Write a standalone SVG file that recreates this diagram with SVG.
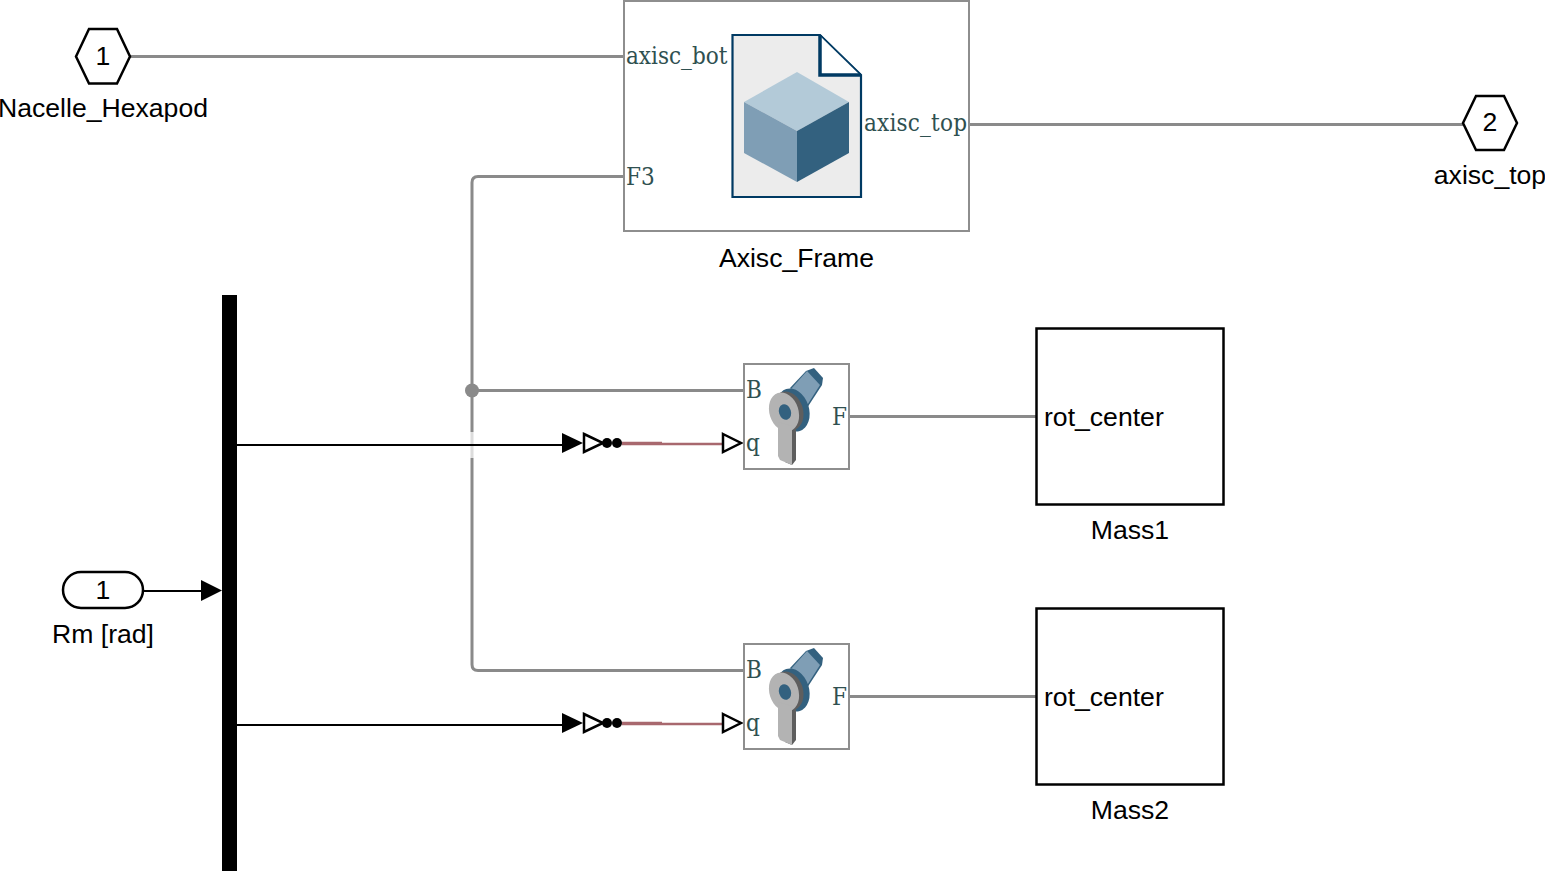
<svg xmlns="http://www.w3.org/2000/svg" width="1545" height="871" viewBox="0 0 1545 871">
<style>
text{font-family:"Liberation Sans",Arial,sans-serif;font-size:26.6px;fill:#000}
.m{text-anchor:middle}
text.p{font-family:"DejaVu Serif Condensed","DejaVu Serif",serif;font-size:24px;fill:#2f5050}
.phys{fill:none;stroke:#8a8a8a;stroke-width:3}
.sig{fill:none;stroke:#000;stroke-width:2}
.blk{fill:#fff;stroke:#8e8e8e;stroke-width:2}
.sub{fill:#fff;stroke:#000;stroke-width:2.5}
.port{fill:#fff;stroke:#000;stroke-width:2.5}
</style>
<defs>
<g id="joint">
<rect class="blk" x="744" y="364" width="105" height="105"/>
<path d="M790 388 L806 371 L814 368 L823 378 L822 385 L807 408Z" fill="#33617f"/>
<path d="M791 389 L807 371 L820 385 L806 407Z" fill="#7f9eb5"/>
<ellipse cx="793" cy="410" rx="16" ry="22" transform="rotate(-18 793 410)" fill="#33617f"/>
<ellipse cx="788" cy="411" rx="15" ry="20" transform="rotate(-18 788 411)" fill="#5e5e5e"/>
<path d="M788 425 H796 V460 L792 465 L785 462Z" fill="#5e5e5e"/>
<ellipse cx="784" cy="412" rx="14.500" ry="20" transform="rotate(-18 784 412)" fill="#b3b3b3"/>
<path d="M778 422 L792 426 V465 L780 460 L778 456Z" fill="#b3b3b3"/>
<ellipse cx="785" cy="412" rx="6" ry="8" transform="rotate(-18 785 412)" fill="#33617f"/>
</g>
<g id="sigpath">
<path class="sig" d="M237 445 H565"/>
<path d="M562 433 L583 443 L562 453Z" fill="#000"/>
<path d="M584 434 L603 443 L584 452Z" fill="#fff" stroke="#000" stroke-width="2.5"/>
<circle cx="607" cy="443" r="5" fill="#000"/>
<circle cx="617" cy="443" r="5" fill="#000"/>
<path d="M622 443.500 H662" fill="none" stroke="#a8686e" stroke-width="3.500"/>
<path d="M662 444 H723" fill="none" stroke="#a8686e" stroke-width="2.500"/>
<path d="M723 434 L741 443 L723 452Z" fill="#fff" stroke="#000" stroke-width="2.500"/>
</g>
</defs>

<g id="connectors">
<path class="phys" d="M130 56.500 H624"/>
<path class="phys" d="M969 124.500 H1463"/>
<path class="phys" d="M624 176.500 H478 Q472 176.500 472 182.500 V664.500 Q472 670.500 478 670.500 H744"/>
<path class="phys" d="M472 390.500 H744"/>
<circle cx="472" cy="390.500" r="7" fill="#8a8a8a"/>
<path class="phys" d="M849 416.500 H1039"/>
<path class="phys" d="M849 696.500 H1039"/>
<rect x="468" y="432" width="8" height="26" fill="#fff" opacity=".7"/>
<path class="sig" d="M144 591 H205"/>
<path d="M201 580 L222 590.500 L201 601Z" fill="#000"/>
<use href="#sigpath"/>
<use href="#sigpath" y="280"/>
</g>

<g id="Nacelle_Hexapod">
<path class="port" d="M76 56.500 L89 29 H117 L130 56.500 L117 83.500 H89Z"/>
<text class="m" x="103" y="65">1</text>
<text class="m" x="103" y="117">Nacelle_Hexapod</text>
</g>

<g id="axisc_top">
<path class="port" d="M1463 123 L1476 96 H1504 L1517 123 L1504 150 H1476Z"/>
<text class="m" x="1490" y="131">2</text>
<text class="m" x="1490" y="184">axisc_top</text>
</g>

<g id="Axisc_Frame">
<rect class="blk" x="624" y="1" width="345" height="230"/>
<path d="M732.500 35 H820 L861 75 V197 H732.500Z" fill="#ececec" stroke="#003a63" stroke-width="2.200"/>
<path d="M820 35 L861 75 H820Z" fill="#fff"/>
<path d="M820 35 L861 75" fill="none" stroke="#003a63" stroke-width="1.500"/>
<path d="M820 35 V75 H861" fill="none" stroke="#003a63" stroke-width="3.500"/>
<path d="M797 72 L849 102 L797 131 L744 102Z" fill="#b3cad8"/>
<path d="M744 102 L797 131 V182 L744 153Z" fill="#7f9eb5"/>
<path d="M849 102 L797 131 V182 L849 153Z" fill="#33617f"/>
<text class="p" x="626" y="64">axisc_bot</text>
<text class="p" x="626" y="185">F3</text>
<text class="p" x="967" y="131" text-anchor="end" textLength="103">axisc_top</text>
<text class="m" x="796.500" y="267">Axisc_Frame</text>
</g>

<g id="Demux">
<rect x="222" y="295" width="15" height="576" fill="#000"/>
</g>

<g id="Rm">
<rect class="port" x="63" y="572" width="80" height="36" rx="18"/>
<text class="m" x="103" y="599">1</text>
<text class="m" x="103" y="643">Rm [rad]</text>
</g>

<g id="Joint1">
<use href="#joint"/>
<text class="p" x="746" y="398">B</text>
<text class="p" x="746" y="451">q</text>
<text class="p" x="847" y="425" text-anchor="end">F</text>
</g>

<g id="Joint2">
<use href="#joint" y="280"/>
<text class="p" x="746" y="678">B</text>
<text class="p" x="746" y="731">q</text>
<text class="p" x="847" y="705" text-anchor="end">F</text>
</g>

<g id="Mass1">
<rect class="sub" x="1036.500" y="328.500" width="187" height="176"/>
<text x="1044" y="426">rot_center</text>
<text class="m" x="1130" y="539">Mass1</text>
</g>

<g id="Mass2">
<rect class="sub" x="1036.500" y="608.500" width="187" height="176"/>
<text x="1044" y="706">rot_center</text>
<text class="m" x="1130" y="819">Mass2</text>
</g>
</svg>
